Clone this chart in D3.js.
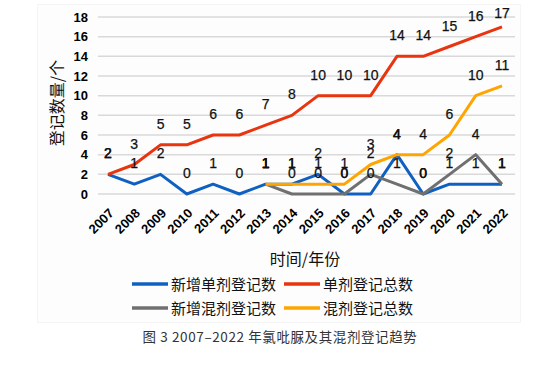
<!DOCTYPE html>
<html>
<head>
<meta charset="utf-8">
<script src="https://cdn.jsdelivr.net/npm/d3@7"></script>
<style>
  body { margin: 0; background: #fff; }
  svg { display: block; }
  text { font-family: "Liberation Sans", Arial, sans-serif; }
  .cjk { font-family: "Noto Sans CJK SC", sans-serif; }
</style>
</head>
<body>
<svg id="chart" width="554" height="369"></svg>
<script>
// data
var years = ["2007", "2008", "2009", "2010", "2011", "2012", "2013", "2014",
    "2015", "2016", "2017", "2018", "2019", "2020", "2021", "2022"];
var newSingle = [2, 1, 2, 0, 1, 0, 1, 1, 2, 0, 0, 4, 0, 1, 1, 1];
var totalSingle = [2, 3, 5, 5, 6, 6, 7, 8, 10, 10, 10, 14, 14, 15, 16, 17];
// mixtures only start in 2013
var newMix = [null, null, null, null, null, null, 1, 0, 0, 0, 2, 1, 0, 2, 4, 1];
var totalMix = [null, null, null, null, null, null, 1, 1, 1, 1, 3, 4, 4, 6, 10, 11];
var yTicks = [0, 2, 4, 6, 8, 10, 12, 14, 16, 18];

var series = [
    { name: "新增单剂登记数", values: newSingle, color: "#1060c2" },
    { name: "单剂登记总数", values: totalSingle, color: "#e8340f" },
    { name: "新增混剂登记数", values: newMix, color: "#707070" },
    { name: "混剂登记总数", values: totalMix, color: "#ffa500" }
];

var svg = d3.select("#chart");

// faint chart area frame
svg.append("rect")
    .attr("x", 37.5).attr("y", 4.5)
    .attr("width", 483).attr("height", 318)
    .attr("fill", "#fdfdfd")
    .attr("stroke", "#f5f5f5");

var x = d3.scalePoint().domain(years).range([108, 502]);
var y = d3.scaleLinear().domain([0, 18]).range([194, 17]);

// gridlines
svg.append("g")
    .selectAll("line")
    .data(yTicks)
    .enter().append("line")
    .attr("x1", 98).attr("x2", 515)
    .attr("y1", function (d) { return y(d); })
    .attr("y2", function (d) { return y(d); })
    .attr("stroke", "#d9d9d9")
    .attr("stroke-width", 1.5);

// y axis
var yAxis = svg.append("g")
    .attr("transform", "translate(98,0)")
    .call(d3.axisLeft(y).tickValues(yTicks).tickSize(0).tickPadding(10));
yAxis.select(".domain").remove();
yAxis.selectAll("text")
    .attr("font-size", 13)
    .attr("font-weight", "bold")
    .attr("fill", "#000")
    .style("font-family", "'Liberation Sans', Arial, sans-serif");

// x axis labels, rotated
var xAxis = svg.append("g")
    .attr("transform", "translate(0,194)")
    .call(d3.axisBottom(x).tickSize(0).tickPadding(0));
xAxis.select(".domain").remove();
xAxis.selectAll("text")
    .attr("font-size", 13)
    .attr("font-weight", "bold")
    .attr("fill", "#000")
    .style("font-family", "'Liberation Sans', Arial, sans-serif")
    .attr("text-anchor", "end")
    .attr("dy", null)
    .attr("transform", "translate(6,20) rotate(-45)");

// lines
var line = d3.line()
    .defined(function (d) { return d != null; })
    .x(function (d, i) { return x(years[i]); })
    .y(function (d) { return y(d); });

series.forEach(function (s) {
    svg.append("path")
        .datum(s.values)
        .attr("fill", "none")
        .attr("stroke", s.color)
        .attr("stroke-width", 3)
        .attr("stroke-linejoin", "round")
        .attr("d", line);
});

// data labels above each point (kept inside the top of the chart area)
series.forEach(function (s) {
    svg.append("g")
        .selectAll("text")
        .data(s.values.map(function (v, i) { return { v: v, year: years[i] }; })
            .filter(function (d) { return d.v != null; }))
        .enter().append("text")
        .attr("x", function (d) { return x(d.year); })
        .attr("y", function (d) { return Math.max(y(d.v) - 16, 18); })
        .attr("text-anchor", "middle")
        .attr("font-size", 14)
        .attr("fill", "#111")
        .attr("stroke", "#111")
        .attr("stroke-width", 0.25)
        .text(function (d) { return d.v; });
});

// axis titles
svg.append("text")
    .attr("class", "cjk")
    .attr("transform", "translate(63,103) rotate(-90)")
    .attr("text-anchor", "middle")
    .attr("font-size", 16)
    .attr("fill", "#111")
    .text("登记数量/个");

svg.append("text")
    .attr("class", "cjk")
    .attr("x", 305).attr("y", 265)
    .attr("text-anchor", "middle")
    .attr("font-size", 16)
    .attr("fill", "#111")
    .text("时间/年份");

// legend
var legendPos = [[132, 284], [284, 284], [132, 308], [284, 308]];
series.forEach(function (s, i) {
    var p = legendPos[i];
    svg.append("line")
        .attr("x1", p[0]).attr("x2", p[0] + 36)
        .attr("y1", p[1]).attr("y2", p[1])
        .attr("stroke", s.color)
        .attr("stroke-width", 3.5);
    svg.append("text")
        .attr("class", "cjk")
        .attr("x", p[0] + 39).attr("y", p[1] + 5.5)
        .attr("font-size", 15)
        .attr("fill", "#111")
        .text(s.name);
});

// caption
svg.append("text")
    .attr("class", "cjk")
    .attr("x", 280).attr("y", 342)
    .attr("text-anchor", "middle")
    .attr("font-size", 13.5)
    .attr("letter-spacing", 0.6)
    .attr("fill", "#333")
    .text("图 3 2007–2022 年氯吡脲及其混剂登记趋势");
</script>
</body>
</html>
